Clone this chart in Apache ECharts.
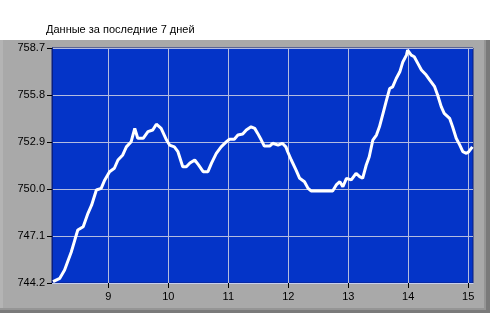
<!DOCTYPE html>
<html><head><meta charset="utf-8">
<script src="https://cdn.jsdelivr.net/npm/echarts@6/dist/echarts.min.js"></script>
<style>html,body{margin:0;padding:0;background:#fff;}#c{width:495px;height:313px;}</style>
</head><body><div id="c"></div>
<script>
const titleText = "Данные за последние 7 дней";
const days = [8.077,8.19,8.27,8.33,8.38,8.44,8.49,8.58,8.66,8.72,8.80,8.88,8.94,9.02,9.10,9.16,9.24,9.30,9.38,9.44,9.49,9.58,9.66,9.74,9.80,9.88,9.97,10.02,10.10,10.16,10.24,10.30,10.36,10.44,10.50,10.58,10.66,10.72,10.80,10.88,10.97,11.02,11.10,11.16,11.24,11.30,11.38,11.44,11.49,11.55,11.60,11.69,11.74,11.83,11.90,11.96,11.99,12.05,12.13,12.19,12.27,12.33,12.38,12.47,12.74,12.80,12.86,12.91,12.97,13.05,13.13,13.19,13.24,13.30,13.35,13.41,13.47,13.52,13.58,13.63,13.69,13.74,13.80,13.86,13.91,13.97,13.99,14.05,14.10,14.16,14.22,14.30,14.36,14.44,14.49,14.55,14.60,14.69,14.74,14.80,14.86,14.91,14.97,15.01,15.07];
const pressure = [744.28,744.49,745.0,745.6,746.1,746.85,747.47,747.67,748.5,749.0,749.94,750.04,750.56,751.07,751.28,751.79,752.1,752.6,752.92,753.74,753.13,753.13,753.54,753.64,754.0,753.74,753.02,752.71,752.6,752.3,751.37,751.37,751.6,751.79,751.5,751.07,751.07,751.6,752.2,752.6,752.92,753.07,753.07,753.33,753.39,753.64,753.84,753.74,753.43,753.02,752.65,752.65,752.82,752.71,752.82,752.6,752.3,751.79,751.17,750.66,750.45,750.04,749.88,749.88,749.88,750.25,750.45,750.14,750.66,750.56,750.97,750.76,750.66,751.48,751.99,753.02,753.33,753.84,754.67,755.38,756.2,756.3,756.82,757.23,757.84,758.26,758.57,758.26,758.16,757.75,757.34,757.03,756.72,756.31,755.8,755.08,754.67,754.36,753.84,753.13,752.71,752.3,752.2,752.3,752.6];
const yTicks = [744.2,747.1,750.0,752.9,755.8,758.7];
const xTicks = [9,10,11,12,13,14,15];

const chart = echarts.init(document.getElementById('c'), null, {renderer:'canvas'});
const font = 'Liberation Sans, Arial, sans-serif';
chart.setOption({
  animation:false,
  backgroundColor:'#ffffff',
  graphic:[
    {type:'rect', z:-10, shape:{x:0,y:40,width:490,height:273}, style:{fill:'#7a7a7a'}},
    {type:'rect', z:-9, shape:{x:0,y:40,width:486,height:270}, style:{fill:'#959595'}},
    {type:'rect', z:-8, shape:{x:0,y:40,width:484,height:268}, style:{fill:'#a9a9a9'}},
    {type:'rect', z:-7, shape:{x:0,y:40,width:3,height:268}, style:{fill:'#b4b4b4'}},
    {type:'text', left:46, top:24, style:{text:titleText, font:'11px '+font, fill:'#000'}}
  ],
  grid:{left:52, top:48, width:421, height:235, show:true, backgroundColor:'#0434c8', borderColor:'#0a1f80', borderWidth:1},
  xAxis:{type:'value', min:8.06, max:15.08,
    axisLine:{show:true, lineStyle:{color:'#c8d0ee', width:1}},
    axisTick:{show:true, length:5, inside:false, customValues:xTicks, lineStyle:{color:'#000'}},
    axisLabel:{customValues:xTicks, margin:8, color:'#000', fontSize:11, fontFamily:font, formatter:v=>String(v)},
    splitLine:{show:true, lineStyle:{color:'#b4bce0', width:1}}
  },
  yAxis:{type:'value', min:744.2, max:758.7,
    axisLine:{show:true, lineStyle:{color:'#0a1f80', width:1}},
    axisTick:{show:true, length:5, inside:false, customValues:yTicks, lineStyle:{color:'#000'}},
    axisLabel:{customValues:yTicks, margin:7, color:'#000', fontSize:11, fontFamily:font, formatter:v=>v.toFixed(1)},
    splitLine:{show:true, lineStyle:{color:'#b4bce0', width:1}}
  },
  series:[{type:'line', data:days.map((d,i)=>[d,pressure[i]]), showSymbol:false, symbol:'none',
    lineStyle:{color:'#ffffff', width:3}, smooth:false}]
});
</script></body></html>
